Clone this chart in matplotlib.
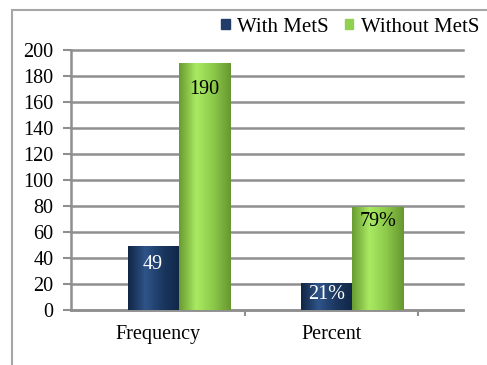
import numpy as np
import matplotlib.pyplot as plt
from matplotlib.colors import LinearSegmentedColormap
from matplotlib.patches import Patch, Rectangle

categories = ['Frequency', 'Percent']
with_mets = [49, 21]
without_mets = [190, 79]
with_labels = ['49', '21%']
without_labels = ['190', '79%']
yticks = np.arange(0, 201, 20)

# label drop below bar top, in pixels
with_drop = [9, 2]
without_drop = [17, 5]

plt.rcParams['font.family'] = ['Liberation Serif', 'DejaVu Serif']
FS = 14.5
GRID = '#8f8f8f'

fig = plt.figure(figsize=(4.87, 3.65), dpi=100)
ax = fig.add_axes([71 / 487, 1 - 310 / 365, (463 - 71) / 487, 260 / 365])

x = np.arange(len(categories))
width = 0.294
shift = 0.12

blue_shade = ['#112646', '#2e5488', '#1b3861', '#112646']
green_shade = ['#6a9c32', '#a9ea62', '#8cc94a', '#679830']


def shade(bar, colors):
    # horizontal gradient across the bar, clipped to its rectangle
    x0, y0 = bar.get_xy()
    w, h = bar.get_width(), bar.get_height()
    cmap = LinearSegmentedColormap.from_list('', colors)
    grad = np.linspace(0, 1, 64).reshape(1, -1)
    im = ax.imshow(grad, cmap=cmap, extent=[x0, x0 + w, y0, y0 + h],
                   aspect='auto', interpolation='bilinear', zorder=3)
    im.set_clip_path(bar)


b1 = ax.bar(x - width / 2 + shift, with_mets, width, color='#1f3d68', zorder=3, linewidth=0)
b2 = ax.bar(x + width / 2 + shift, without_mets, width, color='#92d050', zorder=3, linewidth=0)
for b in b1:
    shade(b, blue_shade)
for b in b2:
    shade(b, green_shade)

for b, lab, d in zip(b1, with_labels, with_drop):
    ax.annotate(lab, (b.get_x() + b.get_width() / 2, b.get_height()),
                xytext=(0, -d), textcoords='offset pixels', ha='center', va='top',
                color='white', fontsize=FS, zorder=5)
for b, lab, d in zip(b2, without_labels, without_drop):
    ax.annotate(lab, (b.get_x() + b.get_width() / 2, b.get_height()),
                xytext=(0, -d), textcoords='offset pixels', ha='center', va='top',
                color='black', fontsize=FS, zorder=5)

ax.set_xlim(-0.5, 1.759)
ax.set_ylim(0, 200)
ax.set_yticks(yticks)
ax.set_yticklabels([str(v) for v in yticks], fontsize=FS)
ax.set_xticks(x)
ax.set_xticklabels(categories, fontsize=FS)
ax.set_xticks([0.5, 1.5], minor=True)

ax.grid(axis='y', color=GRID, linewidth=1.8, zorder=0)
for gl in ax.get_ygridlines():
    gl.set_clip_on(False)
ax.set_axisbelow(True)

for s in ['top', 'right']:
    ax.spines[s].set_visible(False)
for s in ['left', 'bottom']:
    ax.spines[s].set_color(GRID)
    ax.spines[s].set_linewidth(1.8)

ax.tick_params(axis='y', length=5.5, width=1.5, color=GRID, pad=7, labelcolor='black')
ax.tick_params(axis='x', which='major', length=0, pad=11, labelcolor='black')
ax.tick_params(axis='x', which='minor', length=4, width=1.5, color=GRID)

handles = [Patch(color='#1f3d68'), Patch(color='#92d050')]
fig.legend(handles, ['With MetS', 'Without MetS'], loc='center right',
           bbox_to_anchor=(479 / 487, 1 - 27 / 365), ncol=2, frameon=False,
           handlelength=0.42, handleheight=0.42, handletextpad=0.35,
           columnspacing=0.75, fontsize=15, borderaxespad=0, borderpad=0)

# chart area border
fig.add_artist(Rectangle((12 / 487, -0.05), 1, (365 - 10) / 365 + 0.05,
                         transform=fig.transFigure, fill=False,
                         edgecolor='#a6a6a6', linewidth=1.5))

fig.savefig('out.png', dpi=100)
